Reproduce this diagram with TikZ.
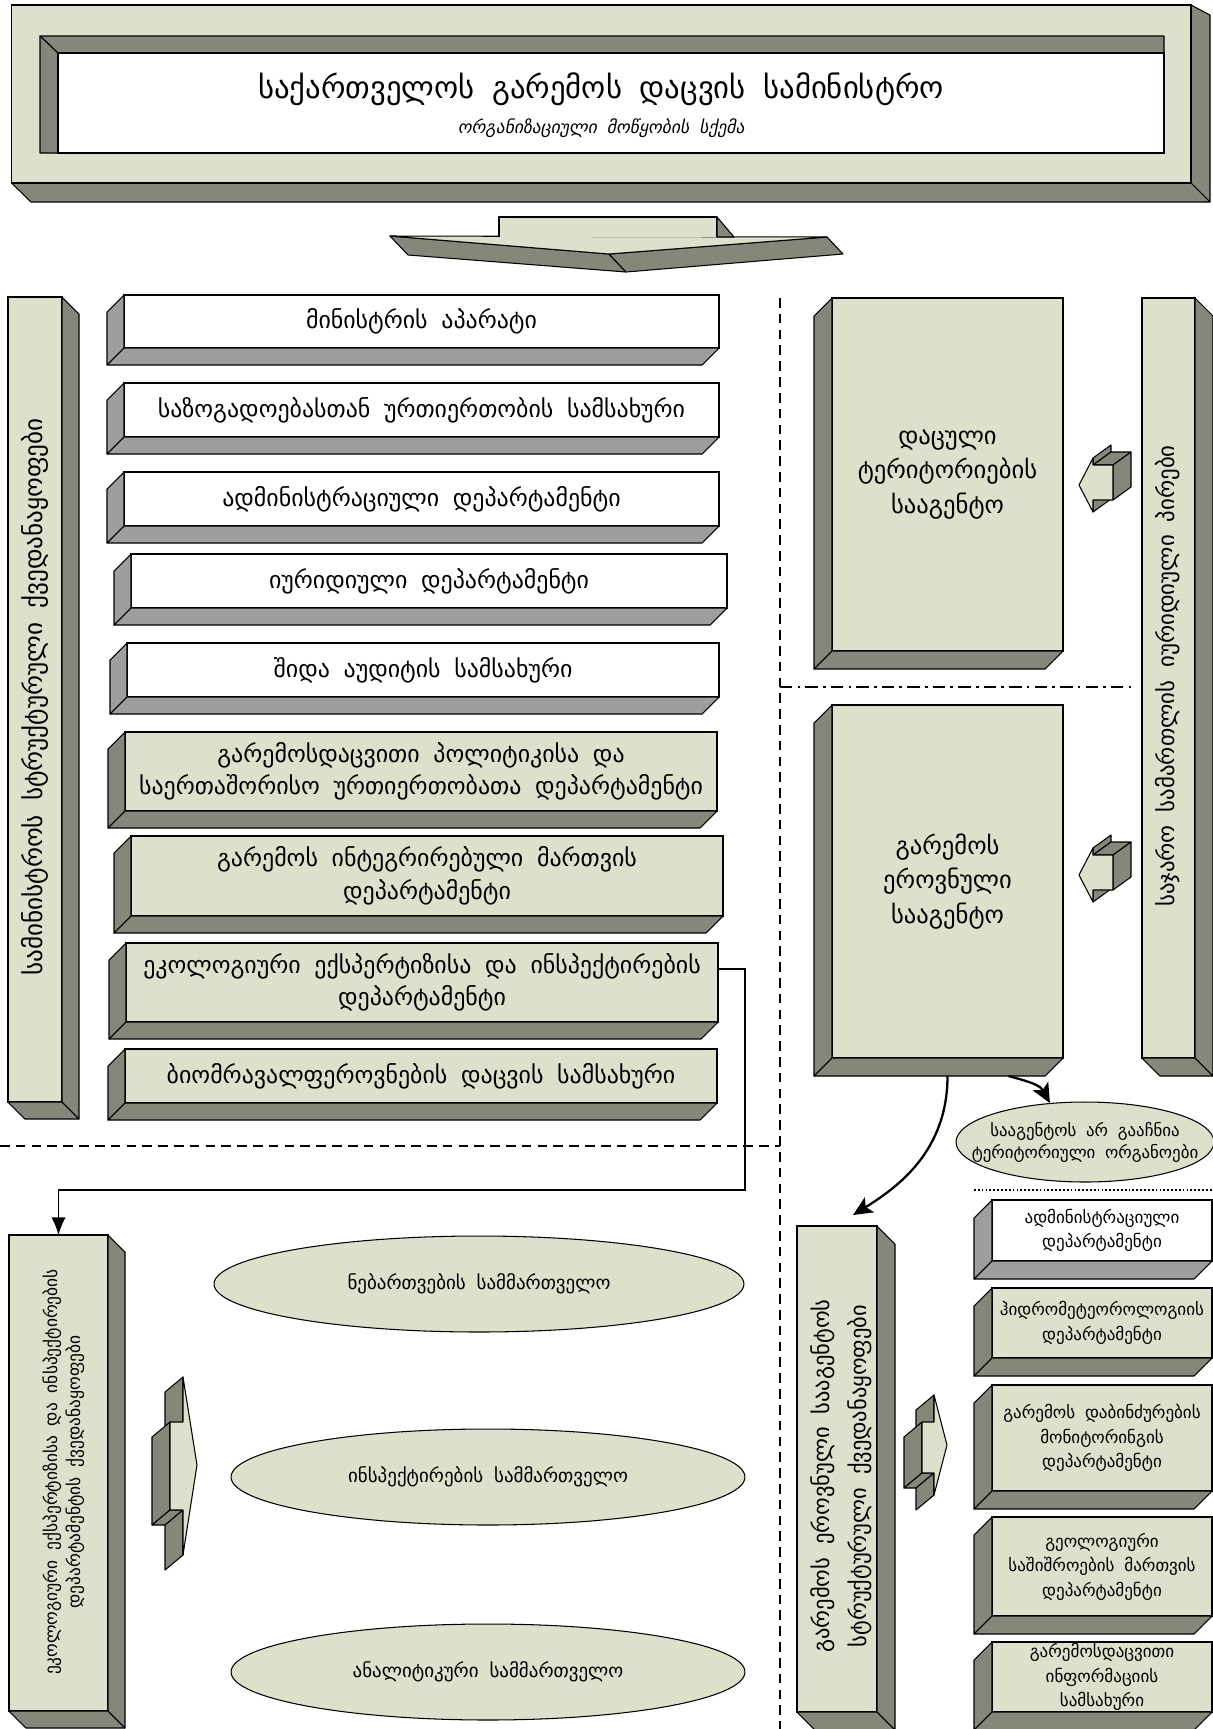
\documentclass[tikz,border=0pt]{standalone}
\usepackage{fontspec}
\newfontfamily\geo[WordSpace=1.8]{DejaVu Sans}
\newfontfamily\geoit[WordSpace=1.8,FakeSlant=0.2]{DejaVu Sans}
\usetikzlibrary{shapes.geometric,arrows.meta,calc}
\definecolor{gfill}{HTML}{DDE0CB}
\definecolor{gside}{HTML}{848779}
\definecolor{wside}{HTML}{9E9E9E}
\newcommand\gsz[2]{\fontsize{#1}{#2}\selectfont}
% extrusion down-left: node, depth, style
\newcommand\extDL[3]{%
  \filldraw[#3] (#1.north west) -- ++(-#2,#2) -- ([shift={(-#2,#2)}]#1.south west) -- (#1.south west) -- cycle;
  \filldraw[#3] (#1.south west) -- ++(-#2,#2) -- ([shift={(-#2,#2)}]#1.south east) -- (#1.south east) -- cycle;}
% extrusion down-right
\newcommand\extDR[3]{%
  \filldraw[#3] (#1.north east) -- ++(#2,#2) -- ([shift={(#2,#2)}]#1.south east) -- (#1.south east) -- cycle;
  \filldraw[#3] (#1.south west) -- ++(#2,#2) -- ([shift={(#2,#2)}]#1.south east) -- (#1.south east) -- cycle;}
% 3D block arrow pointing left
\newcommand\larr[8]{%
  \filldraw[gs] (#3,#4) -- (#3,#5) -- (#3+18,#5-13) -- (#3+18,#4-13) -- cycle;
  \filldraw[gs] (#3,#5) -- (#6,#5) -- (#6+18,#5-13) -- (#3+18,#5-13) -- cycle;
  \filldraw[gs] (#6,#5) -- (#6,#7) -- (#6+18,#7-13) -- (#6+18,#5-13) -- cycle;
  \filldraw[gs] (#3,#7) -- (#3,#8) -- (#3+18,#8-13) -- (#3+18,#7-13) -- cycle;
  \filldraw[lite] (#1,#2) -- (#3,#4) -- (#3,#5) -- (#6,#5) -- (#6,#7) -- (#3,#7) -- (#3,#8) -- cycle;}
% 3D block arrow pointing right
\newcommand\rarr[8]{%
  \filldraw[gs] (#3,#4) -- (#3,#5) -- (#3-18,#5+15) -- (#3-18,#4+15) -- cycle;
  \filldraw[gs] (#6,#5) -- (#6,#7) -- (#6-18,#7+15) -- (#6-18,#5+15) -- cycle;
  \filldraw[gs] (#6,#7) -- (#3,#7) -- (#3-18,#7+15) -- (#6-18,#7+15) -- cycle;
  \filldraw[gs] (#3,#7) -- (#3,#8) -- (#3-18,#8+15) -- (#3-18,#7+15) -- cycle;
  \filldraw[lite] (#1,#2) -- (#3,#4) -- (#3,#5) -- (#6,#5) -- (#6,#7) -- (#3,#7) -- (#3,#8) -- cycle;}
\begin{document}
\begin{tikzpicture}[x=0.02cm,y=-0.02cm,
  sz/.style 2 args={minimum width=#1*0.02cm,minimum height=#2*0.02cm},
  face/.style={draw=black,line width=0.6pt,inner sep=0pt,outer sep=0pt,align=center},
  gbox/.style={face,fill=gfill},
  wbox/.style={face,fill=white},
  gs/.style={draw=black,line width=0.6pt,fill=gside,line join=round},
  ws/.style={draw=black,line width=0.6pt,fill=wside,line join=round},
  lite/.style={draw=black,line width=0.6pt,fill=gfill,line join=round},
  oval/.style={ellipse,draw=black,line width=0.6pt,fill=gfill,inner sep=0pt,align=center},
  conn/.style={line width=0.7pt,-{Latex[length=10pt,width=8pt]}},
  curv/.style={line width=1.3pt,-{Stealth[length=11pt,width=10pt,inset=2.5pt]}},
  dashline/.style={line width=0.6pt,dash pattern=on 5.5pt off 3.5pt},
  dashdot/.style={line width=0.6pt,dash pattern=on 7pt off 3pt on 1.5pt off 3pt},
  dotline/.style={line width=0.6pt,dash pattern=on 1pt off 1.2pt},
  bt/.style={font=\geo\gsz{13.6}{18.5}},
  agt/.style={font=\geo\gsz{14}{19.7}},
  colt/.style={rotate=90,align=center},
  smt/.style={font=\geo\gsz{9.7}{14}},
  ovt/.style={font=\geo\gsz{10.8}{13}}]
\useasboundingbox (0,0) rectangle (1213,1729);
\clip (0,0) rectangle (1213,1729);
\fill[white] (0,0) rectangle (1213,1729);

% ---------- title frame ----------
\filldraw[gs] (1191,5) -- (1210,15) -- (1210,202) -- (1191,183) -- cycle;
\filldraw[gs] (11.6,183) -- (1191,183) -- (1210,202) -- (31,202) -- cycle;
\node[gbox,sz={1179.4}{178}] (frame) at (601.3,94) {};
\filldraw[gs] (40,36) -- (1164,36) -- (1164,53) -- (58,53) -- cycle;
\filldraw[gs] (40,36) -- (58,53) -- (58,153) -- (40,153) -- cycle;
\node[wbox,sz={1106}{100}] (inner) at (611,103) {};
\node[font=\geo\gsz{17.5}{20}] (ttl) at (601,89) {საქართველოს გარემოს დაცვის სამინისტრო};
\node[font=\geoit\gsz{10}{12}] (sub) at (601,128) {ორგანიზაციული მოწყობის სქემა};

% ---------- down arrow ----------
\filldraw[gs] (390,236) -- (609,254) -- (626,272) -- (408,255) -- cycle;
\filldraw[gs] (609,254) -- (827,237) -- (843,254) -- (626,272) -- cycle;
\filldraw[lite] (390,236) -- (827,237) -- (609,254) -- cycle;
\filldraw[lite] (499,237) -- (499,217) -- (717,217) -- (717,237);
\filldraw[gs] (717,217) -- (734,237) -- (717,237) -- cycle;

% ---------- dividers ----------
\draw[dashline] (780,298) -- (780,1729);
\draw[dashline] (0,1146) -- (780,1146);
\draw[dashdot] (780,687) -- (1133,687);
\draw[dotline] (974,1190) -- (1213,1190);

% ---------- left column ----------
\node[gbox,sz={54}{805}] (c1) at (35,699.5) {};
\extDR{c1}{17}{gs}
\node[colt,font=\geo\gsz{14.3}{16}] (c1t) at (35,697) {სამინისტროს სტრუქტურული ქვედანაყოფები};

% ---------- ministry boxes ----------
\node[wbox,bt,sz={595}{53}] (b1) at (421.5,321.5) {მინისტრის აპარატი};
\extDL{b1}{17}{ws}
\node[wbox,bt,sz={595}{54}] (b2) at (421.5,410) {საზოგადოებასთან ურთიერთობის სამსახური};
\extDL{b2}{17}{ws}
\node[wbox,bt,sz={595}{54}] (b3) at (421.5,499) {ადმინისტრაციული დეპარტამენტი};
\extDL{b3}{17}{ws}
\node[wbox,bt,sz={596}{54}] (b4) at (429,581) {იურიდიული დეპარტამენტი};
\extDL{b4}{17}{ws}
\node[wbox,bt,sz={592}{54}] (b5) at (423,670) {შიდა აუდიტის სამსახური};
\extDL{b5}{17}{ws}
\node[gbox,bt,sz={592}{79}] (b6) at (421,771.5) {გარემოსდაცვითი პოლიტიკისა და\\საერთაშორისო ურთიერთობათა დეპარტამენტი};
\extDL{b6}{17}{gs}
\node[gbox,bt,sz={592}{80}] (b7) at (427,876) {გარემოს ინტეგრირებული მართვის\\დეპარტამენტი};
\extDL{b7}{17}{gs}
\node[gbox,bt,sz={592}{79}] (b8) at (422,982.5) {ეკოლოგიური ექსპერტიზისა და ინსპექტირების\\დეპარტამენტი};
\extDL{b8}{17}{gs}
\node[gbox,bt,sz={592}{54}] (b9) at (421,1076) {ბიომრავალფეროვნების დაცვის სამსახური};
\extDL{b9}{17}{gs}

% ---------- agencies ----------
\node[gbox,agt,sz={231}{353}] (agA) at (947.5,474.5) {დაცული\\ტერიტორიების\\სააგენტო};
\extDL{agA}{18}{gs}
\node[gbox,agt,sz={231}{353}] (agB) at (947.5,881.5) {გარემოს\\ეროვნული\\სააგენტო};
\extDL{agB}{18}{gs}
\node[gbox,sz={53}{760}] (c2) at (1168.5,678) {};
\extDR{c2}{18}{gs}
\node[colt,font=\geo\gsz{13}{16}] (c2t) at (1168,676) {საჯარო სამართლის იურიდიული პირები};
\larr{1079}{485}{1093}{458}{465}{1113}{500}{512}
\larr{1079}{875}{1093}{848}{855}{1113}{890}{902}

\node[oval,minimum width=5.16cm,minimum height=1.6cm] (ell) at (1085,1142) {};
\node[font=\geo\gsz{9.6}{12.5},align=center] (ellt) at (ell.center) {სააგენტოს არ გააჩნია\\ტერიტორიული ორგანოები};

% ---------- agency sub-units ----------
\node[gbox,sz={80}{486}] (c4) at (837,1469) {};
\extDR{c4}{18}{gs}
\node[colt,font=\geo\gsz{12.8}{21}] (c4t) at (841,1476) {გარემოს ეროვნული სააგენტოს\\სტრუქტურული ქვედანაყოფები};
\rarr{947}{1445}{934}{1395}{1422}{922}{1473}{1495}

\node[wbox,smt,sz={220}{61}] (r1) at (1102,1230.5) {ადმინისტრაციული\\დეპარტამენტი};
\extDL{r1}{18}{ws}
\node[gbox,smt,sz={220}{70}] (r2) at (1102,1323) {ჰიდრომეტეოროლოგიის\\დეპარტამენტი};
\extDL{r2}{18}{gs}
\node[gbox,smt,sz={220}{106}] (r3) at (1102,1438) {გარემოს დაბინძურების\\მონიტორინგის\\დეპარტამენტი};
\extDL{r3}{18}{gs}
\node[gbox,smt,sz={220}{99}] (r4) at (1102,1566.5) {გეოლოგიური\\საშიშროების მართვის\\დეპარტამენტი};
\extDL{r4}{18}{gs}
\node[gbox,smt,sz={220}{70}] (r5) at (1102,1677) {გარემოსდაცვითი\\ინფორმაციის\\სამსახური};
\extDL{r5}{18}{gs}

% ---------- expertise sub-units ----------
\node[gbox,sz={99}{476}] (c3) at (58.5,1473) {};
\extDR{c3}{17}{gs}
\node[colt,font=\geo\gsz{9.9}{13}] (c3t) at (64,1472) {ეკოლოგიური ექსპერტიზისა და ინსპექტირების\\დეპარტამენტის ქვედანაყოფები};
\rarr{197}{1465}{183}{1377}{1422}{170}{1510}{1555}

\node[oval,ovt,minimum width=10.6cm,minimum height=1.92cm] (e1) at (479,1284) {ნებართვების სამმართველო};
\node[oval,ovt,minimum width=10.28cm,minimum height=1.92cm] (e2) at (488,1477) {ინსპექტირების სამმართველო};
\node[oval,ovt,minimum width=10.28cm,minimum height=1.92cm] (e3) at (488,1672) {ანალიტიკური სამმართველო};

% ---------- connectors ----------
\coordinate (k1) at (745,1190);
\draw[conn] ($(b8.east)+(0,-13.5)$) -| (k1) -| (c3.north);
\draw[curv] ($(agB.south)+(0,18)$) .. controls +(0,75) and +(45,-28) .. ([shift={(16,-11)}]c4.north);
\draw[curv] ($(agB.south)+(61,18)$) .. controls +(22,6) and +(-10,-18) .. (ell.132);
\end{tikzpicture}
\end{document}
